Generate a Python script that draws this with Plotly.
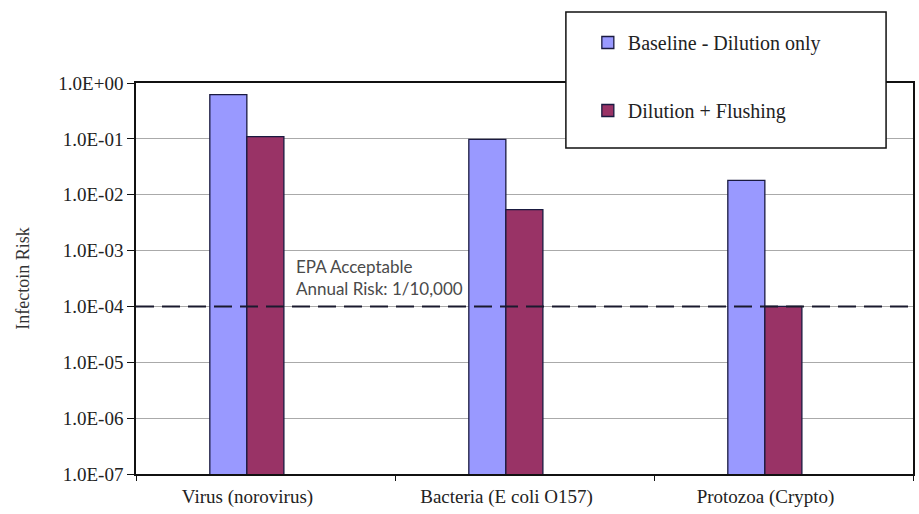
import math
import plotly.graph_objects as go

# Pathogen categories and annual infection risk for each scenario
categories = ["Virus (norovirus)", "Bacteria (E coli O157)", "Protozoa (Crypto)"]
baseline_risk = [0.62, 0.098, 0.018]
flushing_risk = [0.11, 0.0054, 0.0001]
series_names = ["Baseline - Dilution only", "Dilution + Flushing"]

# EPA acceptable annual risk threshold
epa_risk = 1.0e-4
epa_label = "EPA Acceptable<br>Annual Risk: 1/10,000"

# Log-scale tick values and their labels
tick_vals = [1e0, 1e-1, 1e-2, 1e-3, 1e-4, 1e-5, 1e-6, 1e-7]
tick_text = ["1.0E+00", "1.0E-01", "1.0E-02", "1.0E-03",
             "1.0E-04", "1.0E-05", "1.0E-06", "1.0E-07"]

SERIF = "Liberation Serif"
BAR_W = 0.143
BAR_OFF = -0.215

fig = go.Figure()
fig.add_trace(go.Bar(
    x=categories, y=baseline_risk, name=series_names[0],
    width=BAR_W, offset=BAR_OFF, legendgroup="a",
    marker=dict(color="#9999FF", line=dict(color="#1a1a40", width=1.3)),
))
fig.add_trace(go.Bar(
    x=categories, y=flushing_risk, name=series_names[1],
    width=BAR_W, offset=BAR_OFF + BAR_W, legendgroup="b",
    marker=dict(color="#993366", line=dict(color="#1a1a40", width=1.3)),
))

# Dashed threshold line across the plot
fig.add_shape(type="line", xref="paper", x0=0, x1=1, yref="y",
              y0=epa_risk, y1=epa_risk, layer="above",
              line=dict(color="#1a1a2e", width=2, dash="18px,8px"))

fig.add_annotation(
    text=epa_label, xref="paper", yref="y",
    x=(294 - 136) / 779, y=math.log10(epa_risk) + 0.09,
    xanchor="left", yanchor="bottom", align="left", showarrow=False,
    font=dict(family="Lato", size=17, color="#4a4a4a"),
)

# Box behind the legend
fig.add_shape(type="rect", xref="paper", yref="paper",
              x0=(567 - 136) / 779, x1=(888 - 136) / 779,
              y0=(474 - 148) / 391, y1=(474 - 12) / 391,
              layer="above", fillcolor="white",
              line=dict(color="#111111", width=1.5))

fig.update_layout(
    width=919, height=514,
    margin=dict(l=136, r=4, t=83, b=40),
    paper_bgcolor="white", plot_bgcolor="white",
    barmode="overlay",
    showlegend=True,
    legend=dict(
        x=(589 - 136) / 779, y=(474 - 23) / 391,
        xanchor="left", yanchor="top",
        bgcolor="rgba(0,0,0,0)", borderwidth=0,
        itemwidth=30,
        traceorder="grouped", tracegroupgap=39,
        font=dict(family=SERIF, size=20, color="#222222"),
    ),
    xaxis=dict(
        type="category", showline=True, linecolor="#111111", linewidth=1.5,
        mirror=True, ticks="outside", ticklen=5, tickcolor="#111111",
        tickson="boundaries", showgrid=False,
        ticklabelshift=-18, ticklabelstandoff=4,
        tickfont=dict(family=SERIF, size=19, color="#222222"),
    ),
    yaxis=dict(
        type="log", range=[-7, 0],
        tickvals=tick_vals, ticktext=tick_text,
        showline=True, linecolor="#111111", linewidth=1.5, mirror=True,
        ticks="outside", ticklen=7, tickcolor="#111111",
        showgrid=True, gridcolor="#aaaaaa", gridwidth=1,
        tickfont=dict(family=SERIF, size=19, color="#222222"),
        title=dict(text="Infectoin Risk", standoff=24,
                   font=dict(family=SERIF, size=18, color="#333333")),
    ),
)

fig.write_html("out.html")
